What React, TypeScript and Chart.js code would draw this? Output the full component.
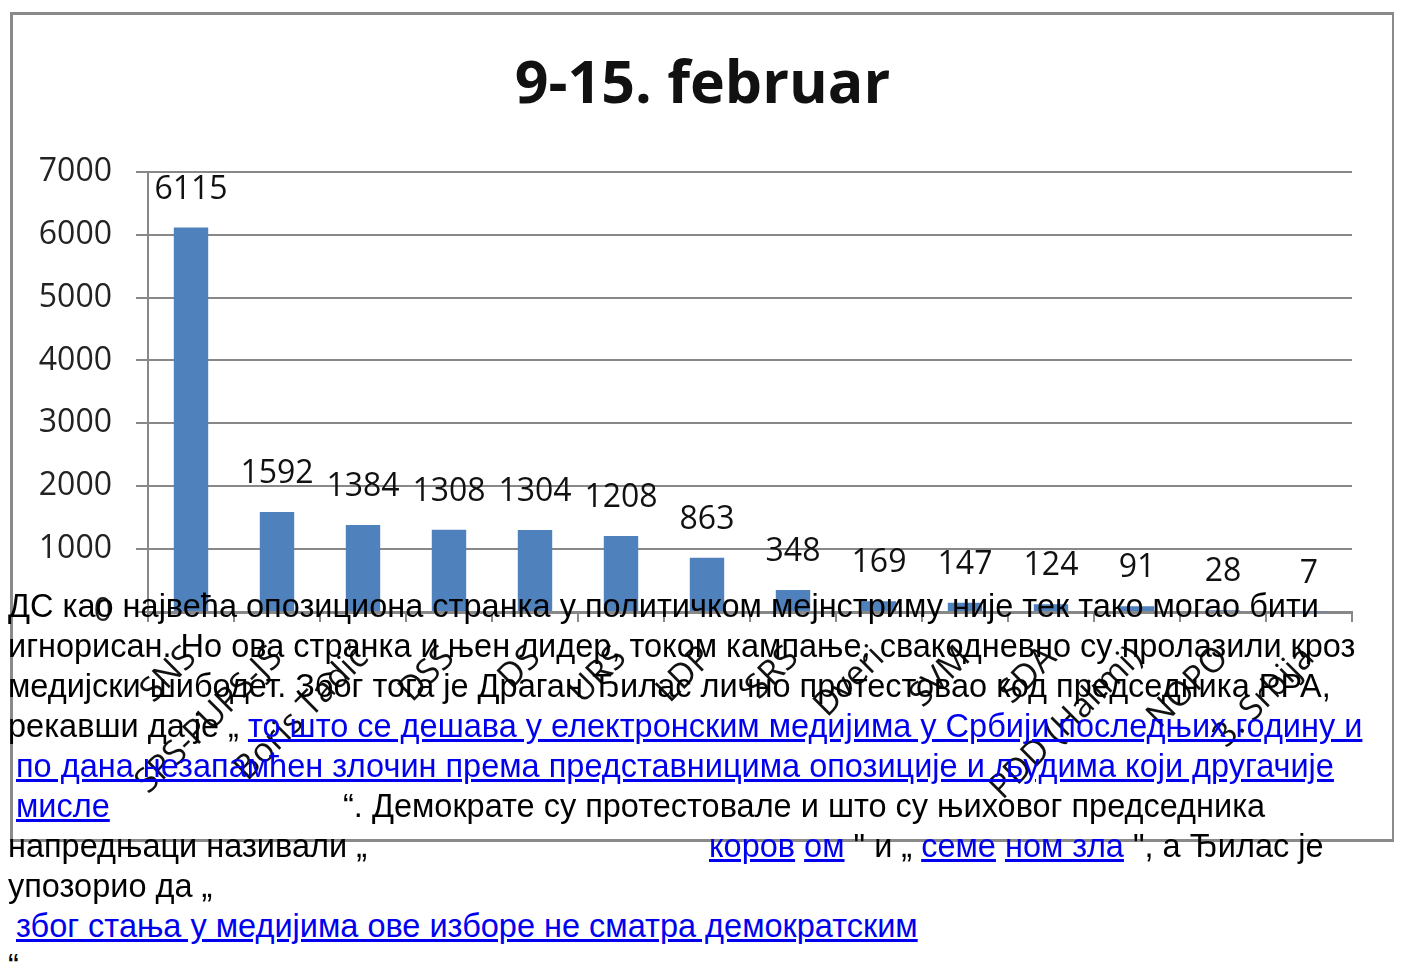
import React, { useEffect, useRef } from "react";
import { Chart, registerables } from "chart.js";

Chart.register(...registerables);

const chartTitle = "9-15. februar";
const categories = [
  "SNS",
  "SPS-PUPS-JS",
  "Boris Tadić",
  "DSS",
  "DS",
  "URS",
  "LDP",
  "SRS",
  "Dveri",
  "SVM",
  "SDA",
  "PDD (Halimi)",
  "NOPO",
  "3. Srbija",
];
const values = [6115, 1592, 1384, 1308, 1304, 1208, 863, 348, 169, 147, 124, 91, 28, 7];
const yMin = 0;
const yMax = 7000;
const yStep = 1000;

const valueLabels = {
  id: "valueLabels",
  afterDatasetsDraw(chart: any) {
    const ctx = chart.ctx;
    const meta = chart.getDatasetMeta(0);
    const data = chart.data.datasets[0].data;
    ctx.save();
    ctx.font = "32px 'Open Sans'";
    ctx.fillStyle = "#111";
    ctx.textAlign = "center";
    ctx.textBaseline = "middle";
    meta.data.forEach((bar: any, i: number) => {
      ctx.fillText(String(data[i]), bar.x, bar.y - 38);
    });
    ctx.restore();
  },
};

function BarChart() {
  const ref = useRef<HTMLCanvasElement>(null);
  useEffect(() => {
    const chart = new Chart(ref.current!, {
      type: "bar",
      data: {
        labels: categories,
        datasets: [
          {
            data: values,
            backgroundColor: "#4f81bd",
            categoryPercentage: 1,
            barPercentage: 0.4,
          },
        ],
      },
      options: {
        animation: false,
        responsive: false,
        devicePixelRatio: 1,
        layout: { padding: 0 },
        plugins: {
          legend: { display: false },
          tooltip: { enabled: false },
          title: {
            display: true,
            text: chartTitle,
            color: "#111",
            font: { family: "'Open Sans'", size: 59, weight: "bold", lineHeight: 1.2 },
            padding: { top: 36, bottom: 50 },
          },
        },
        scales: {
          x: {
            grid: {
              display: true,
              offset: true,
              drawOnChartArea: false,
              drawTicks: true,
              tickLength: 10,
              color: "#888",
              lineWidth: 2,
            },
            border: { display: true, color: "#888", width: 3 },
            ticks: {
              color: "#111",
              font: { family: "'Open Sans'", size: 34 },
              maxRotation: 45,
              minRotation: 45,
              autoSkip: false,
              padding: 16,
            },
            afterFit(scale: any) {
              scale.height = 227;
            },
          },
          y: {
            min: yMin,
            max: yMax,
            ticks: {
              stepSize: yStep,
              color: "#222",
              font: { family: "'Open Sans'", size: 32 },
              padding: 24,
              callback: (v: any) => String(v),
            },
            grid: { color: "#888", lineWidth: 2, tickLength: 12 },
            border: { display: true, color: "#888", width: 2 },
            afterFit(scale: any) {
              scale.width = 135;
            },
          },
          yRight: {
            position: "right",
            display: true,
            min: yMin,
            max: yMax,
            grid: { display: false },
            border: { display: false },
            ticks: { display: false },
            afterFit(scale: any) {
              scale.width = 40;
            },
          },
        },
      },
      plugins: [valueLabels],
    });
    return () => chart.destroy();
  }, []);
  return <canvas ref={ref} width={1379} height={824} style={{ display: "block" }} />;
}

const linkStyle: React.CSSProperties = { color: "#0000ee", textDecoration: "underline" };

export default function App() {
  const lineBase: React.CSSProperties = {
    position: "absolute",
    left: 0,
    height: 40,
    lineHeight: "40px",
    whiteSpace: "nowrap",
  };
  const top0 = 578;
  return (
    <div style={{ position: "relative", width: 1386, height: 965, overflow: "hidden" }}>
      <div
        style={{
          position: "absolute",
          left: 2,
          top: 4,
          width: 1379,
          height: 824,
          border: "3px solid #8a8a8a",
          background: "#fff",
        }}
      >
        <BarChart />
      </div>
      <div
        style={{
          position: "absolute",
          left: 0,
          top: 0,
          width: 1386,
          fontFamily: "'Liberation Sans', Arial, sans-serif",
          fontSize: 32.5,
          color: "#000",
        }}
      >
        <div style={{ ...lineBase, top: top0 }}>
          ДС као највећа опозициона странка у политичком мејнстриму није тек тако могао бити
        </div>
        <div style={{ ...lineBase, top: top0 + 40 }}>
          игнорисан. Но ова странка и њен лидер, током кампање, свакодневно су пролазили кроз
        </div>
        <div style={{ ...lineBase, top: top0 + 80 }}>
          медијски шибодет. Због тога је Драган Ђилас лично протестовао код председника РРА,
        </div>
        <div style={{ ...lineBase, top: top0 + 120 }}>
          рекавши да је „ <a style={linkStyle}>то што се дешава у електронским медијима у Србији последњих годину и</a>
        </div>
        <div style={{ ...lineBase, top: top0 + 160, left: 8 }}>
          <a style={linkStyle}>по дана незапамћен злочин према представницима опозиције и људима који другачије</a>
        </div>
        <div style={{ ...lineBase, top: top0 + 200, left: 8 }}>
          <a style={linkStyle}>мисле</a>
        </div>
        <div style={{ ...lineBase, top: top0 + 200, left: 335 }}>
          “. Демократе су протестовале и што су њиховог председника
        </div>
        <div style={{ ...lineBase, top: top0 + 240 }}>напредњаци називали „</div>
        <div style={{ ...lineBase, top: top0 + 240, left: 701 }}>
          <a style={linkStyle}>коров</a> <a style={linkStyle}>ом</a> " и „ <a style={linkStyle}>семе</a>{" "}
          <a style={linkStyle}>ном зла</a> ", а  Ђилас је
        </div>
        <div style={{ ...lineBase, top: top0 + 280 }}>упозорио да „</div>
        <div style={{ ...lineBase, top: top0 + 320, left: 8 }}>
          <a style={linkStyle}>због стања у медијима ове изборе не сматра демократским</a>
        </div>
        <div style={{ ...lineBase, top: top0 + 360 }}>“</div>
      </div>
    </div>
  );
}
